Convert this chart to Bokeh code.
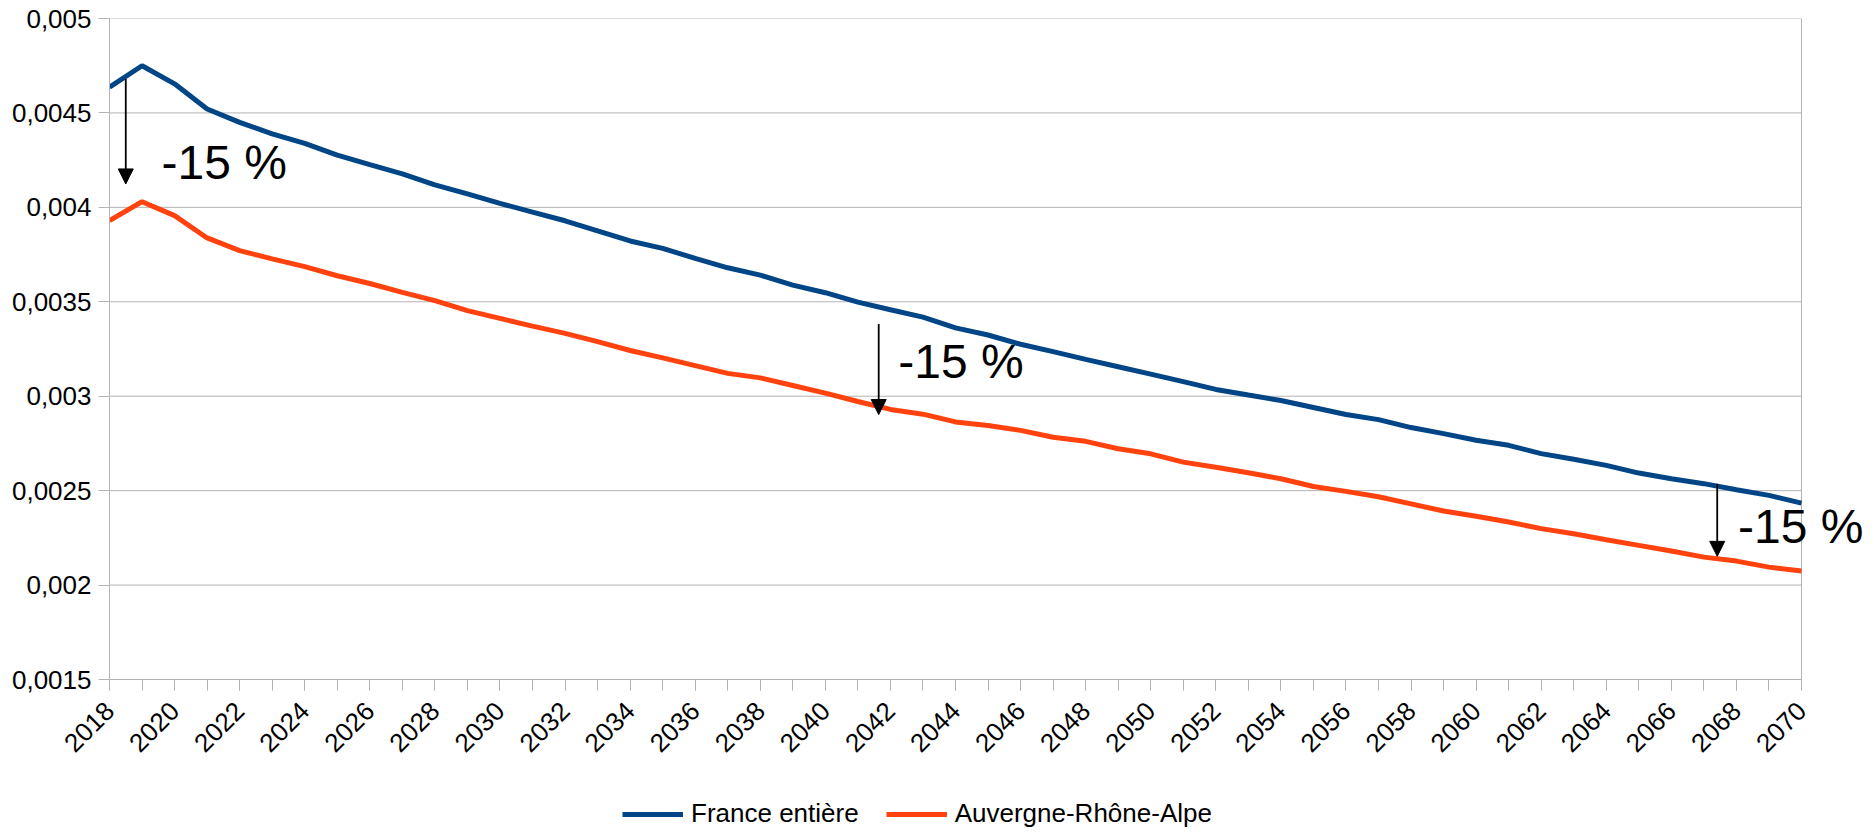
import math
from bokeh.plotting import figure
from bokeh.layouts import column
from bokeh.models import (Range1d, FixedTicker, Legend, LegendItem, Label, Arrow,
                          NormalHead, ColumnDataSource)
from bokeh.embed import file_html
from bokeh.resources import INLINE

# ---------------- data ----------------
years = list(range(2018, 2071))
france = [0.004636, 0.00475, 0.004654, 0.004521, 0.00445, 0.004389, 0.004339, 0.004277,
          0.004226, 0.004177, 0.004119, 0.004071, 0.004021, 0.003975, 0.003929, 0.003876,
          0.003822, 0.003783, 0.00373, 0.00368, 0.003641, 0.003588, 0.003548, 0.003498,
          0.003458, 0.003419, 0.003362, 0.003324, 0.003275, 0.003236, 0.003195, 0.003156,
          0.003117, 0.003077, 0.003036, 0.003006, 0.002977, 0.00294, 0.002903, 0.002876,
          0.002834, 0.002802, 0.002767, 0.00274, 0.002696, 0.002666, 0.002634, 0.002593,
          0.002563, 0.002537, 0.002505, 0.002475, 0.002434]
auvergne = [0.00393, 0.00403, 0.003956, 0.003838, 0.003771, 0.003727, 0.003686, 0.003638,
            0.003597, 0.00355, 0.003506, 0.003453, 0.003412, 0.003371, 0.003333, 0.003289,
            0.003242, 0.003203, 0.003162, 0.003121, 0.003097, 0.003057, 0.003016, 0.002972,
            0.00293, 0.002905, 0.002864, 0.002845, 0.002819, 0.002783, 0.002761, 0.002722,
            0.002695, 0.002651, 0.002624, 0.002595, 0.002563, 0.002522, 0.002496, 0.002468,
            0.00243, 0.002392, 0.002364, 0.002334, 0.002299, 0.002272, 0.00224, 0.00221,
            0.00218, 0.002148, 0.002127, 0.002095, 0.002074]
series_names = ["France entière", "Auvergne-Rhône-Alpe"]

y_ticks = [0.0015, 0.002, 0.0025, 0.003, 0.0035, 0.004, 0.0045, 0.005]
y_tick_labels = ["0,0015", "0,002", "0,0025", "0,003", "0,0035", "0,004", "0,0045", "0,005"]
x_label_years = list(range(2018, 2071, 2))

# annotations: arrows between the two curves and their labels
arrow_x = [2018.5, 2041.64, 2067.41]
arrow_top = [0.00468, 0.003383, 0.002536]
arrow_tip = [0.004124, 0.002903, 0.002152]
note_x = [2019.6, 2042.24, 2068.05]
note_y = [0.004238, 0.003184, 0.002311]
note_text = ["-15 %", "-15 %", "-15 %"]

# ---------------- main figure ----------------
FONT = "Liberation Sans"
GRID = "#b3b3b3"
BLUE = "#004586"
ORANGE = "#ff420e"
LW = 5

W = 1870
BL, BR, BT, BB = 109, 2, 18, 100
FRAME_H = 661
H1 = BT + FRAME_H + BB
H2 = 832 - H1
x0, x1 = years[0], years[-1]
# the frame reaches past the last year so that the last note is not clipped
plot_px = 1692.0
frame_w = W - BL - BR
x_end = x0 + (x1 - x0) * frame_w / plot_px

p = figure(width=W, height=H1, output_backend="svg", toolbar_location=None,
           x_range=Range1d(x0, x_end), y_range=Range1d(y_ticks[0], y_ticks[-1]),
           min_border_left=BL, min_border_right=BR, min_border_top=BT,
           min_border_bottom=BB)
p.outline_line_color = None
p.background_fill_color = "white"
p.border_fill_color = "white"
p.grid.visible = False

# grid lines + right border limited to the data span
p.segment(x0=[x0] * len(y_ticks), y0=y_ticks, x1=[x1] * len(y_ticks), y1=y_ticks,
          line_color=GRID, line_width=1)
p.segment(x0=[x1], y0=[y_ticks[0]], x1=[x1], y1=[y_ticks[-1]], line_color=GRID, line_width=1)

# y axis
p.yaxis.ticker = FixedTicker(ticks=y_ticks)
p.yaxis.major_label_overrides = {t: l for t, l in zip(y_ticks, y_tick_labels)}
p.yaxis.minor_tick_line_color = None
p.yaxis.major_label_standoff = 7

# x axis
p.xaxis.ticker = FixedTicker(ticks=x_label_years, minor_ticks=years)
p.xaxis.bounds = (x0, x1)
p.xaxis.major_label_orientation = math.pi / 4
p.xaxis.minor_tick_line_color = GRID
p.xaxis.minor_tick_out = 11
p.xaxis.minor_tick_in = 0
p.xaxis.major_label_standoff = 16

for ax in (p.xaxis, p.yaxis):
    ax.axis_line_color = GRID
    ax.major_tick_line_color = GRID
    ax.major_tick_out = 11
    ax.major_tick_in = 0
    ax.major_label_text_font = FONT
    ax.major_label_text_font_size = "26px"
    ax.major_label_text_color = "black"

src = ColumnDataSource(dict(year=years, france=france, auvergne=auvergne))
p.line("year", "france", source=src, line_color=BLUE, line_width=LW)
p.line("year", "auvergne", source=src, line_color=ORANGE, line_width=LW)

for xa, yt, yb in zip(arrow_x, arrow_top, arrow_tip):
    p.add_layout(Arrow(x_start=xa, y_start=yt, x_end=xa, y_end=yb, line_width=1.8,
                       line_color="black",
                       end=NormalHead(size=15, fill_color="black", line_color="black")))

for tx, ty, tt in zip(note_x, note_y, note_text):
    p.add_layout(Label(x=tx, y=ty, text=tt, text_font=FONT, text_font_size="48px",
                       text_baseline="middle", text_align="left", text_color="black"))

# ---------------- legend strip ----------------
q = figure(width=W, height=H2, output_backend="svg", toolbar_location=None,
           x_axis_location=None, y_axis_location=None,
           x_range=Range1d(0, 1), y_range=Range1d(0, 1),
           min_border_left=BL, min_border_right=BR, min_border_top=0, min_border_bottom=0)
q.outline_line_color = None
q.grid.visible = False
# same series, outside this strip's view: only their legend glyphs are shown
q1 = q.line("year", "france", source=src, line_color=BLUE, line_width=LW)
q2 = q.line("year", "auvergne", source=src, line_color=ORANGE, line_width=LW)
legend = Legend(items=[LegendItem(label=series_names[0], renderers=[q1]),
                       LegendItem(label=series_names[1], renderers=[q2])],
                orientation="horizontal", location=(622 - BL, 3),
                label_text_font=FONT, label_text_font_size="26px",
                label_text_color="black",
                glyph_width=61, glyph_height=20, label_standoff=8, spacing=27,
                padding=0, margin=0, border_line_alpha=0, background_fill_alpha=0)
q.add_layout(legend, "center")

open("out.html", "w").write(file_html(column(p, q, spacing=0), INLINE))
